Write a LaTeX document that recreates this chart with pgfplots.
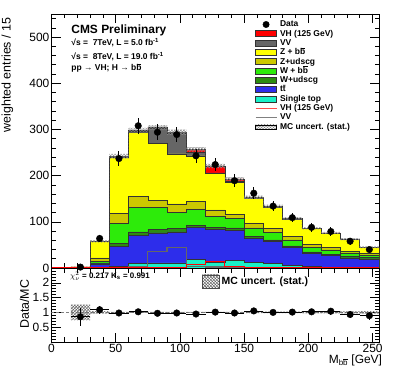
\documentclass[border=0pt]{standalone}
\usepackage{pgfplots}
\pgfplotsset{compat=1.18}
\usepackage{pgfplotstable}
\usepackage{fontspec}
\setmainfont{Liberation Sans}
\usetikzlibrary{patterns}

% ROOT-like colours
\definecolor{cVH}{RGB}{255,0,0}
\definecolor{cVV}{RGB}{102,102,102}
\definecolor{cZb}{RGB}{255,255,0}
\definecolor{cZl}{RGB}{204,200,0}
\definecolor{cWb}{RGB}{45,235,10}
\definecolor{cWl}{RGB}{45,140,15}
\definecolor{cTT}{RGB}{45,45,235}
\definecolor{cST}{RGB}{25,240,200}

\newcommand{\ob}{\makebox[0.556em][l]{b\hspace{-0.556em}\rule[0.78em]{0.556em}{0.07em}}}

% cumulative stack (bin left edge), bottom to top
\pgfplotstableread{
x   st   tt    wl    wb    zl    zb    vv    vh
15  0    1.2   1.3   1.5   1.6   2.2   2.3   2.35
30  0.5  9     11    15    22    57.5  57.8  58
45  3    47    53    96    118   240   241.5 242
60  10   71    78    131   155   294   297   298
75  11   76    84    131   146   269   302   304
90  11   78    85    121   139   247   292   294
105 18.7 87.7  92.7  126.7 144.7 242.7 249.7 257
120 13   83    88    112   126   204   206   221
135 17   82    87    107   116   186   187   193
150 12   64    68    87    96    151   152   153
165 10   57    61    77    85    132   133   134
180 6    44    48    61    68    106   107   107.5
195 3    31    35    44    51    85    85.5  86
210 1.5  26.5  30    39    45    75    75.5  76
225 0.7  21.7  25.7  32.7  36.7  61.7  62.2  62.5
240 0.5  19.5  22.5  28.5  31.5  44.5  44.8  45
255 0.5  19.5  22.5  28.5  31.5  44.5  44.8  45
}\stack

% unstacked signal / VV lines
\pgfplotstableread{
x   vhl   vvl
0   0     0
15  0.05  0.1
30  0.2   0.3
45  0.5   1.5
60  1     3
75  2     35
90  2     45
105 7     3
120 14    2
135 4     1
150 1     1
165 1     0.8
180 0.5   0.6
195 0.5   0.5
210 0.3   0.5
225 0.3   0.4
240 0.2   0.3
255 0.2   0.3
}\lines

\pgfplotstableread{
x     d    e
22.5  2    1.4
37.5  64   8
52.5  237  15.4
67.5  308  17.5
82.5  294  17.1
97.5  289  17
112.5 243  15.6
127.5 224  15
142.5 189  13.7
157.5 162  12.7
172.5 134  11.6
187.5 109  10.4
202.5 88   9.4
217.5 79   8.9
232.5 58   7.6
247.5 40   6.3
}\data

\pgfplotstableread{
x     r     ex   er
22.5  0.85  7.5  0.30
37.5  1.09  7.5  0.14
52.5  0.98  7.5  0.064
67.5  1.02  7.5  0.058
82.5  0.97  7.5  0.056
97.5  0.98  7.5  0.058
112.5 0.945 7.5  0.061
127.5 1.01  7.5  0.068
142.5 0.98  7.5  0.071
157.5 1.05  7.5  0.083
172.5 1.00  7.5  0.086
187.5 1.01  7.5  0.097
202.5 1.02  7.5  0.11
217.5 1.04  7.5  0.12
232.5 0.93  7.5  0.12
247.5 0.89  7.5  0.14
}\ratio

\pgfplotsset{
  rootax/.style={
    scale only axis, width=327.5bp,
    xmin=0, xmax=255,
    tick align=inside, tick pos=both,
    major tick length=9bp, minor tick length=4.5bp,
    axis line style={line width=0.8bp},
    every tick/.style={black, line width=0.6bp},
    /pgf/number format/assume math mode=true,
    tick label style={font=\fontsize{12}{12}\selectfont},
    xticklabel style={inner sep=1.5bp},
    yticklabel style={inner sep=2bp},
    xtick={0,50,...,250}, minor xtick={10,20,...,250},
  },
  stk/.style={draw=black!80, line width=0.6bp, const plot mark left, forget plot},
  box/.style={legend image code/.code={\draw[fill=#1, draw=black!80, line width=0.6bp] (0bp,-3bp) rectangle (21bp,3bp);}},
}

\begin{document}
\begin{tikzpicture}

\begin{axis}[rootax,
  at={(51.5bp,115bp)}, anchor=south west, height=254bp,
  ymin=0, ymax=550,
  ytick={0,100,...,500}, minor ytick={20,40,...,540},
  xticklabels={},
  ylabel={weighted entries / 15},
  ylabel style={font=\fontsize{12.5}{12.5}\selectfont, at={(axis description cs:-0.125,1)}, anchor=base east},
  legend cell align=left,
  legend style={at={(0.621,0.976)}, anchor=north west, draw=none, fill=none,
    inner sep=0pt, row sep=0.9bp, column sep=2.5bp,
    font=\bfseries\fontsize{8.5}{8.5}\selectfont,
    nodes={inner sep=0.5bp, text height=6.1bp, text depth=1.3bp}},
]
\addplot[stk, fill=cVH] table[x=x,y=vh]{\stack} \closedcycle;
\addplot[stk, fill=cVV] table[x=x,y=vv]{\stack} \closedcycle;
\addplot[stk, fill=cZb] table[x=x,y=zb]{\stack} \closedcycle;
\addplot[stk, fill=cZl] table[x=x,y=zl]{\stack} \closedcycle;
\addplot[stk, fill=cWb] table[x=x,y=wb]{\stack} \closedcycle;
\addplot[stk, fill=cWl] table[x=x,y=wl]{\stack} \closedcycle;
\addplot[stk, fill=cTT] table[x=x,y=tt]{\stack} \closedcycle;
\addplot[stk, fill=cST] table[x=x,y=st]{\stack} \closedcycle;

\addplot[const plot mark left, forget plot, color=cVV, line width=1.3bp] table[x=x,y=vvl]{\lines};
\addplot[const plot mark left, forget plot, color=red, line width=1bp] table[x=x,y=vhl]{\lines};

% MC stat. uncertainty band (upper edge, then lower edge backwards)
\addplot[pattern=crosshatch, pattern color=black!45, draw=none, forget plot] coordinates {
(15,2.95)(30,2.95)(30,60.5)(45,60.5)(45,247)(60,247)(60,303.5)(75,303.5)(75,309.5)(90,309.5)
(90,299.5)(105,299.5)(105,262)(120,262)(120,225.5)(135,225.5)(135,197)(150,197)(150,156.5)
(165,156.5)(165,137)(180,137)(180,110.3)(195,110.3)(195,88.5)(210,88.5)(210,78.3)(225,78.3)
(225,64.7)(240,64.7)(240,47)(255,47)
(255,43)(240,43)(240,60.3)(225,60.3)(225,73.7)(210,73.7)(210,83.5)(195,83.5)(195,104.7)
(180,104.7)(180,131)(165,131)(165,149.5)(150,149.5)(150,189)(135,189)(135,216.5)(120,216.5)
(120,252)(105,252)(105,288.5)(90,288.5)(90,298.5)(75,298.5)(75,292.5)(60,292.5)(60,237)
(45,237)(45,55.5)(30,55.5)(30,1.75)(15,1.75)} -- cycle;

\addplot[only marks, mark=*, mark size=3.3bp, black, forget plot,
  error bars/.cd, y dir=both, y explicit, error mark=none,
  error bar style={line width=0.9bp}] table[x=x,y=d,y error=e]{\data};

\addlegendimage{legend image code/.code={\fill[black] (10.5bp,0bp) circle (3.2bp);}}
\addlegendentry{Data}
\addlegendimage{box=cVH}\addlegendentry{VH (125 GeV)}
\addlegendimage{box=cVV}\addlegendentry{VV}
\addlegendimage{box=cZb}\addlegendentry{Z + b\ob}
\addlegendimage{box=cZl}\addlegendentry{Z+udscg}
\addlegendimage{box=cWb}\addlegendentry{W + b\ob}
\addlegendimage{box=cWl}\addlegendentry{W+udscg}
\addlegendimage{box=cTT}\addlegendentry{t\={t}}
\addlegendimage{box=cST}\addlegendentry{Single top}
\addlegendimage{legend image code/.code={\draw[red!70, line width=1bp] (0bp,0bp) -- (21bp,0bp);}}
\addlegendentry{VH (125 GeV)}
\addlegendimage{legend image code/.code={\draw[gray, line width=1bp] (0bp,0bp) -- (21bp,0bp);}}
\addlegendentry{VV}
\addlegendimage{legend image code/.code={\fill[pattern=crosshatch, pattern color=black!45] (0bp,-2bp) rectangle (21bp,2bp);}}
\addlegendentry{MC uncert. (stat.)}

\node[anchor=base west, font=\bfseries\fontsize{12}{12}\selectfont] at (rel axis cs:0.050,0.925) {CMS Preliminary};
\node[anchor=base west, font=\bfseries\fontsize{8.5}{8.5}\selectfont] at (rel axis cs:0.050,0.875) {√s =\ \ 7TeV, L = 5.0 fb\textsuperscript{-1}};
\node[anchor=base west, font=\bfseries\fontsize{8.5}{8.5}\selectfont] at (rel axis cs:0.050,0.822) {√s =\ \ 8TeV, L = 19.0 fb\textsuperscript{-1}};
\node[anchor=base west, font=\bfseries\fontsize{8.5}{8.5}\selectfont] at (rel axis cs:0.050,0.776) {pp → VH; H → b\ob};
\end{axis}

\begin{axis}[rootax,
  at={(51.5bp,41bp)}, anchor=south west, height=74bp,
  ymin=0, ymax=2.5,
  ytick={0.5,1,1.5,2}, minor ytick={0,0.1,...,2.5},
  ylabel={Data/MC},
  ylabel style={font=\fontsize{12.5}{12.5}\selectfont, at={(axis description cs:-0.069,0.51)}, anchor=base},
  xlabel={M\textsubscript{b\ob} [GeV]},
  xlabel style={font=\fontsize{12}{12}\selectfont, at={(axis description cs:1.02,-0.285)}, anchor=base east},
  legend style={at={(0.459,0.818)}, anchor=west, draw=none, fill=none, inner sep=0pt,
    column sep=2bp, font=\bfseries\fontsize{10.5}{10.5}\selectfont, nodes={inner sep=0.5bp}},
]
\addplot[gray, densely dashed, line width=0.6bp, forget plot] coordinates {(0,1) (255,1)};
\addplot[pattern=crosshatch, pattern color=black!60, draw=none, forget plot] coordinates {
(15,1.26)(30,1.26)(30,1.043)(45,1.043)(45,1.021)(60,1.021)(60,1.018)(90,1.018)(90,1.019)
(120,1.019)(120,1.02)(135,1.02)(135,1.021)(150,1.021)(150,1.023)(165,1.023)(165,1.022)
(180,1.022)(180,1.026)(195,1.026)(195,1.029)(210,1.029)(210,1.03)(225,1.03)(225,1.035)
(240,1.035)(240,1.044)(255,1.044)
(255,0.956)(240,0.956)(240,0.965)(225,0.965)(225,0.97)(210,0.97)(210,0.971)(195,0.971)
(195,0.974)(180,0.974)(180,0.978)(165,0.978)(165,0.977)(150,0.977)(150,0.979)(135,0.979)
(135,0.98)(120,0.98)(120,0.981)(90,0.981)(90,0.982)(60,0.982)(60,0.979)(45,0.979)(45,0.957)
(30,0.957)(30,0.74)(15,0.74)} -- cycle;

\addplot[only marks, mark=*, mark size=3.3bp, black, forget plot,
  error bars/.cd, x dir=both, x explicit, y dir=both, y explicit, error mark=none,
  error bar style={line width=0.8bp}] table[x=x,y=r,x error=ex,y error=er]{\ratio};

\addlegendimage{legend image code/.code={\draw[pattern=crosshatch, pattern color=black!70, draw=black!70, line width=0.5bp] (0bp,-6.5bp) rectangle (16.6bp,6.5bp);}}
\addlegendentry{MC uncert. (stat.)}

\node[anchor=base west, font=\bfseries\fontsize{8}{8}\selectfont] at (rel axis cs:0.046,0.86) {$\chi^{2}_{\nu}$ = 0.217 K\textsubscript{s} = 0.991};
\end{axis}

\pgfresetboundingbox
\path[use as bounding box] (0,0) rectangle (399bp,383bp);
\end{tikzpicture}
\end{document}
